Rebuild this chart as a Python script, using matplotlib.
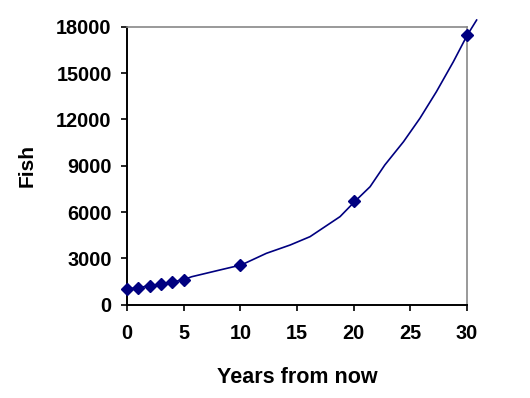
import matplotlib
matplotlib.use('Agg')
import matplotlib.pyplot as plt

# data points (markers)
years = [0, 1, 2, 3, 4, 5, 10, 20, 30]
fish = [1000, 1100, 1210, 1330, 1460, 1610, 2590, 6730, 17450]

# trend line (slightly kinked, like the original)
line_years = [0, 1, 2, 3, 4, 5, 5.7, 8.2, 10.1, 12.3, 14.4, 16.15, 18.8, 20.1,
              21.45, 22.75, 24.4, 25.85, 27.3, 28.8, 30.0, 30.85]
line_fish = [1000, 1100, 1210, 1330, 1460, 1610, 1800, 2240, 2570, 3320, 3860, 4400,
             5700, 6680, 7640, 9050, 10560, 12080, 13800, 15750, 17440, 18450]

xticks = [0, 5, 10, 15, 20, 25, 30]
yticks = [0, 3000, 6000, 9000, 12000, 15000, 18000]

plt.rcParams['font.family'] = ['Liberation Sans', 'DejaVu Sans']

fig = plt.figure(figsize=(5.3, 3.98), dpi=100)
ax = fig.add_axes([0.2396, 0.2349, 0.6415, 0.6973])

navy = '#000080'
ax.plot(line_years, line_fish, color=navy, lw=1.2, clip_on=False, zorder=3)
ax.plot(years, fish, 'D', color=navy, ms=6, clip_on=False, zorder=4)

ax.set_xlim(0, 30)
ax.set_ylim(0, 18000)
ax.set_xticks(xticks)
ax.set_yticks(yticks)
ax.tick_params(direction='out', length=4, width=1.2, labelsize=14.3)
ax.tick_params(axis='y', pad=7)
ax.tick_params(axis='x', pad=10)
for lab in ax.get_xticklabels() + ax.get_yticklabels():
    lab.set_fontweight('bold')

for side in ['top', 'right']:
    ax.spines[side].set_color('#888888')
    ax.spines[side].set_linewidth(1.2)
for side in ['left', 'bottom']:
    ax.spines[side].set_linewidth(1.4)

ax.set_xlabel('Years from now', fontsize=15.5, fontweight='bold', labelpad=17)
ax.set_ylabel('Fish', fontsize=15, fontweight='bold', labelpad=14)

fig.savefig('out.png', dpi=100)
